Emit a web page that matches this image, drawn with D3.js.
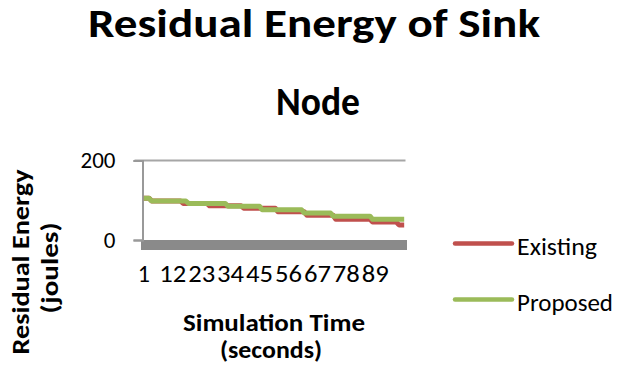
<!DOCTYPE html>
<html>
<head>
<meta charset="utf-8">
<script src="https://cdn.jsdelivr.net/npm/d3@7"></script>
<style>
    body { margin: 0; background: #ffffff; }
    text { font-family: Carlito, Calibri, Lato, sans-serif; fill: #000000; }
</style>
</head>
<body>
<div id="container"></div>
<script>
const container = d3.select('#container')

// x categories: simulation time steps 1..100
const categories = d3.range(1, 101);
const xTickLabels = [1, 12, 23, 34, 45, 56, 67, 78, 89];
const yTickLabels = [0, 200];

const existing = [
    105, 105, 105, 98, 98, 98, 98, 98, 98, 98,
    98, 98, 98, 98, 98, 92, 92, 92, 92, 92,
    92, 92, 92, 92, 92, 86, 86, 86, 86, 86,
    86, 86, 86, 86, 86, 86, 86, 86, 80, 80,
    80, 80, 80, 80, 80, 80, 80, 80, 80, 80,
    80, 71, 71, 71, 71, 71, 71, 71, 71, 71,
    71, 71, 62, 62, 62, 62, 62, 62, 62, 62,
    62, 62, 62, 52, 52, 52, 52, 52, 52, 52,
    52, 52, 52, 52, 52, 52, 52, 45, 45, 45,
    45, 45, 45, 45, 45, 45, 45, 38, 38, 38
];

const proposed = [
    105, 105, 105, 98, 98, 98, 98, 98, 98, 98,
    98, 98, 98, 98, 98, 98, 98, 92, 92, 92,
    92, 92, 92, 92, 92, 92, 92, 92, 92, 92,
    92, 92, 85, 85, 85, 85, 85, 85, 85, 85,
    85, 85, 85, 85, 85, 76, 76, 76, 76, 76,
    76, 76, 76, 76, 76, 76, 76, 76, 76, 76,
    76, 68, 68, 68, 68, 68, 68, 68, 68, 68,
    68, 68, 60, 60, 60, 60, 60, 60, 60, 60,
    60, 60, 60, 60, 60, 60, 60, 52, 52, 52,
    52, 52, 52, 52, 52, 52, 52, 52, 52, 52
];

const seriesNames = ["Existing", "Proposed"];

const colors = {
    "Existing": "#c0504d",
    "Proposed": "#9bbb59"
};

var width = 619,
    height = 371;

const svg = container
    .append('svg')
        .attr('width', width)
        .attr('height', height);

svg.append("rect")
    .attr("width", width)
    .attr("height", height)
    .attr("fill", "#ffffff");

// title, stretched a bit to the width of the original (Calibri) one
svg.append("text")
    .attr("x", 314)
    .attr("y", 37)
    .attr("text-anchor", "middle")
    .attr("font-weight", "bold")
    .attr("font-size", "40px")
    .attr("textLength", 452)
    .attr("lengthAdjust", "spacingAndGlyphs")
    .text("Residual Energy of Sink");

svg.append("text")
    .attr("x", 318)
    .attr("y", 115)
    .attr("text-anchor", "middle")
    .attr("font-weight", "bold")
    .attr("font-size", "41px")
    .attr("textLength", 84)
    .attr("lengthAdjust", "spacingAndGlyphs")
    .text("Node");

var x = d3.scaleBand()
    .domain(categories)
    .range([142.5, 405.5]);

var y = d3.scaleLinear()
    .domain([0, 200])
    .range([240, 160.5]);

// floor under the series
svg.append("rect")
    .attr("x", x.range()[0] - 1.5)
    .attr("y", y(0))
    .attr("width", x.range()[1] - x.range()[0] + 3)
    .attr("height", 10)
    .attr("fill", "#8a8a8a");

// gridline at the top value
svg.append("line")
    .attr("x1", x.range()[0] - 8)
    .attr("x2", x.range()[1])
    .attr("y1", y(200))
    .attr("y2", y(200))
    .attr("stroke", "#a6a6a6")
    .attr("stroke-width", 2);

// y axis
const yAxis = svg.append("g")
    .attr("transform", "translate(" + (x.range()[0]) + ",0)")
    .call(d3.axisLeft(y).tickValues(yTickLabels).tickSize(9).tickPadding(18));

yAxis.select(".domain")
    .attr("stroke", "#999999")
    .attr("stroke-width", 2);
yAxis.selectAll(".tick line")
    .attr("stroke", "#999999")
    .attr("stroke-width", 2);
yAxis.selectAll(".tick text")
    .attr("font-size", "23px")
    .attr("font-family", "Carlito, Calibri, Lato, sans-serif")
    .attr("fill", "#000000");

// x axis labels only, wide digits so they sit close together like the original
const xAxis = svg.append("g")
    .attr("transform", "translate(0," + 265 + ")")
    .call(d3.axisBottom(x).tickValues(xTickLabels).tickSize(0).tickPadding(0));

xAxis.select(".domain").remove();
xAxis.selectAll(".tick text")
    .attr("font-size", "24px")
    .attr("font-family", "Carlito, Calibri, Lato, sans-serif")
    .attr("fill", "#000000")
    .attr("textLength", d => String(d).length > 1 ? 27 : null)
    .attr("lengthAdjust", d => String(d).length > 1 ? "spacingAndGlyphs" : null);

// series
var line = d3.line()
    .x((d, i) => x(categories[i]) + x.bandwidth() / 2)
    .y(d => y(d));

const seriesData = [
    { name: "Existing", values: existing },
    { name: "Proposed", values: proposed }
];

svg.selectAll(".series")
    .data(seriesData)
    .enter()
    .append("path")
        .attr("class", "series")
        .attr("d", d => line(d.values))
        .attr("fill", "none")
        .attr("stroke", d => colors[d.name])
        .attr("stroke-width", 5)
        .attr("stroke-linejoin", "round");

// axis titles
svg.append("text")
    .attr("text-anchor", "middle")
    .attr("font-weight", "bold")
    .attr("font-size", "25px")
    .attr("textLength", 182)
    .attr("lengthAdjust", "spacingAndGlyphs")
    .attr("x", 274)
    .attr("y", 331)
    .text("Simulation Time");

svg.append("text")
    .attr("text-anchor", "middle")
    .attr("font-weight", "bold")
    .attr("font-size", "25px")
    .attr("textLength", 102)
    .attr("lengthAdjust", "spacingAndGlyphs")
    .attr("x", 271)
    .attr("y", 358)
    .text("(seconds)");

svg.append("text")
    .attr("text-anchor", "middle")
    .attr("font-weight", "bold")
    .attr("font-size", "25px")
    .attr("textLength", 185)
    .attr("lengthAdjust", "spacingAndGlyphs")
    .attr("transform", "translate(29,262) rotate(-90)")
    .text("Residual Energy");

svg.append("text")
    .attr("text-anchor", "middle")
    .attr("font-weight", "bold")
    .attr("font-size", "25px")
    .attr("textLength", 91)
    .attr("lengthAdjust", "spacingAndGlyphs")
    .attr("transform", "translate(58,268) rotate(-90)")
    .text("(joules)");

// legend
const legend = svg.append("g")
    .selectAll("g")
    .data(seriesNames)
    .enter()
    .append("g")
        .attr("transform", (d, i) => "translate(455," + (243.5 + i * 56) + ")");

legend.append("line")
    .attr("x1", 0)
    .attr("x2", 57)
    .attr("stroke", d => colors[d])
    .attr("stroke-width", 4.5)
    .attr("stroke-linecap", "round");

legend.append("text")
    .attr("x", 62)
    .attr("y", 11)
    .attr("font-size", "25px")
    .attr("textLength", (d, i) => [80, 96][i])
    .attr("lengthAdjust", "spacingAndGlyphs")
    .text(d => d);
</script>
</body>
</html>
